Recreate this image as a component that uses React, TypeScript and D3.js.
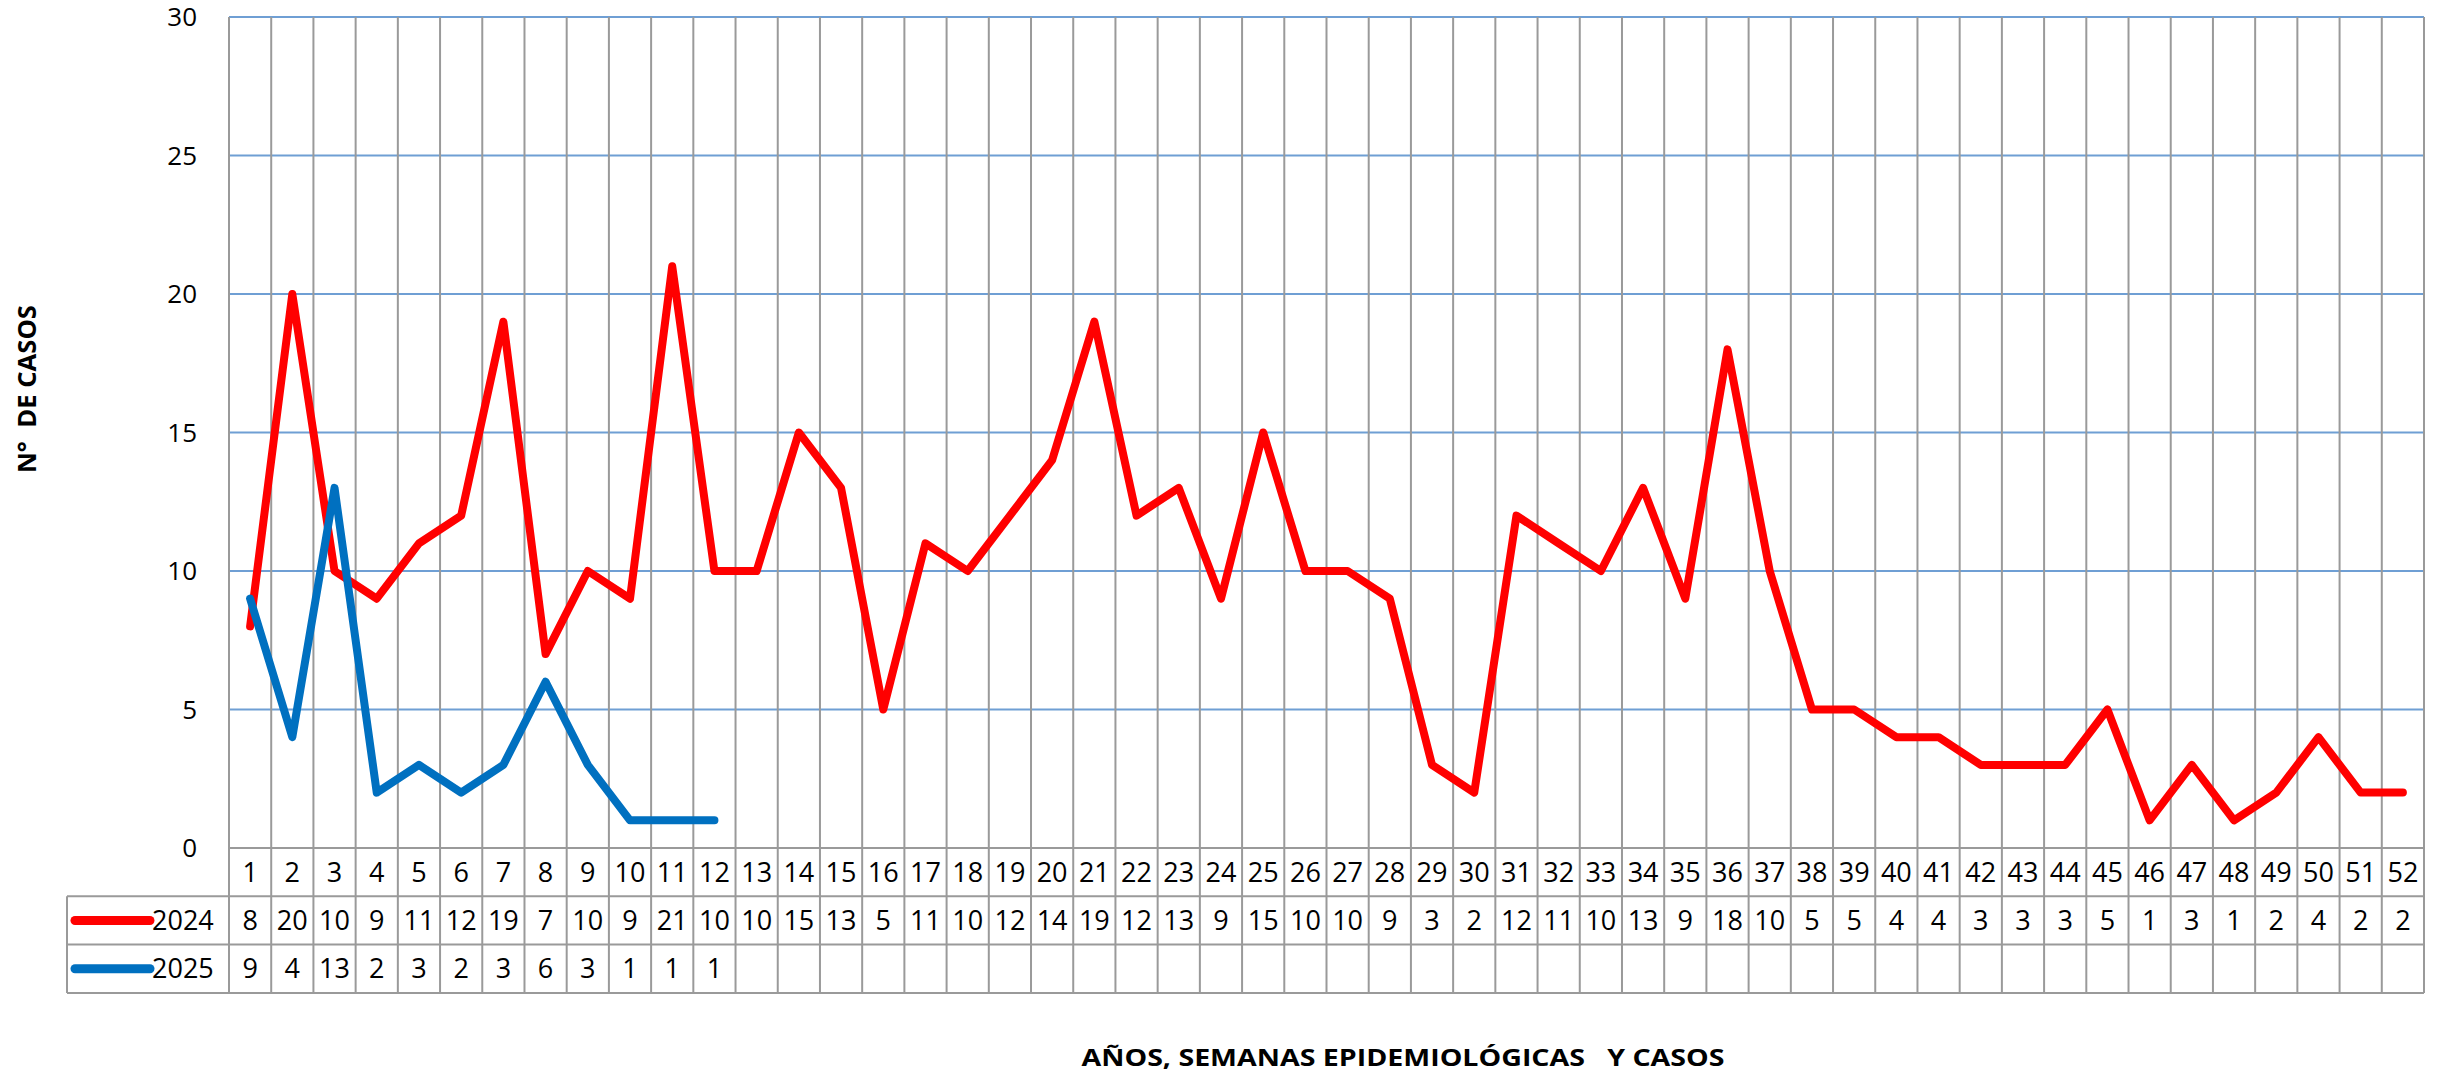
import React from 'react';
import * as d3 from 'd3';

const width = 2438;
const height = 1072;
const margin = { top: 17, right: 14, left: 229 };
const plotBottom = 848;
const rowH = 48.3;
const legendLeft = 67;

const weeks = d3.range(1, 53).map(String);
const cases2024 = [8, 20, 10, 9, 11, 12, 19, 7, 10, 9, 21, 10, 10, 15, 13, 5, 11, 10, 12, 14, 19, 12, 13, 9, 15, 10, 10, 9, 3, 2, 12, 11, 10, 13, 9, 18, 10, 5, 5, 4, 4, 3, 3, 3, 5, 1, 3, 1, 2, 4, 2, 2];
const cases2025 = [9, 4, 13, 2, 3, 2, 3, 6, 3, 1, 1, 1];
const yTicks = [0, 5, 10, 15, 20, 25, 30];

const series = [
  { name: '2024', values: cases2024, color: '#ff0000' },
  { name: '2025', values: cases2025, color: '#0070c0' },
];

const font = '"Open Sans", sans-serif';
const gridGray = '#9a9a9a';
const gridBlue = '#6f9fd4';

export default function App() {
  const x = d3.scaleBand<string>()
    .domain(weeks)
    .range([margin.left, width - margin.right]);

  const y = d3.scaleLinear()
    .domain([0, 30])
    .range([plotBottom, margin.top]);

  const line = d3.line<number>()
    .x((d, i) => (x(weeks[i]) as number) + x.bandwidth() / 2)
    .y(d => y(d));

  const tableBottom = plotBottom + rowH * 3;
  const rowCenter = (r: number) => plotBottom + rowH * r + rowH / 2;
  const fs = 27;

  return (
    <svg width={width} height={height} style={{ position: 'absolute', left: 0, top: 0, background: '#fff' }}
      fontFamily={font}>
      {/* horizontal gridlines */}
      {yTicks.filter(t => t > 0).map(t => (
        <line key={t} x1={margin.left} x2={width - margin.right} y1={y(t)} y2={y(t)}
          stroke={gridBlue} strokeWidth={2} />
      ))}
      {/* vertical gridlines through table */}
      {weeks.map(w => (
        <line key={w} x1={x(w)} x2={x(w)} y1={margin.top} y2={tableBottom}
          stroke={gridGray} strokeWidth={2} />
      ))}
      <line x1={width - margin.right} x2={width - margin.right} y1={margin.top} y2={tableBottom}
        stroke={gridGray} strokeWidth={2} />
      {/* table horizontal lines */}
      <line x1={margin.left} x2={width - margin.right} y1={plotBottom} y2={plotBottom} stroke={gridGray} strokeWidth={2} />
      {[1, 2, 3].map(r => (
        <line key={r} x1={legendLeft} x2={width - margin.right} y1={plotBottom + rowH * r} y2={plotBottom + rowH * r}
          stroke={gridGray} strokeWidth={2} />
      ))}
      <line x1={legendLeft} x2={legendLeft} y1={plotBottom + rowH} y2={tableBottom} stroke={gridGray} strokeWidth={2} />

      {/* y ticks */}
      {yTicks.map(t => (
        <text key={t} x={197} y={y(t) + 9} textAnchor="end" fontSize={26} fill="#000">{t}</text>
      ))}

      {/* week labels */}
      {weeks.map(w => (
        <text key={w} x={(x(w) as number) + x.bandwidth() / 2} y={rowCenter(0) + 9.5}
          textAnchor="middle" fontSize={fs} fill="#000">{w}</text>
      ))}

      {/* data rows */}
      {series.map((s, si) => (
        <g key={s.name}>
          <line x1={75} x2={150} y1={rowCenter(si + 1)} y2={rowCenter(si + 1)}
            stroke={s.color} strokeWidth={9} strokeLinecap="round" />
          <text x={152} y={rowCenter(si + 1) + 9.5} fontSize={fs} fill="#000">{s.name}</text>
          {s.values.map((v, i) => (
            <text key={i} x={(x(weeks[i]) as number) + x.bandwidth() / 2} y={rowCenter(si + 1) + 9.5}
              textAnchor="middle" fontSize={fs} fill="#000">{v}</text>
          ))}
        </g>
      ))}

      {/* lines */}
      {series.map(s => (
        <path key={s.name} d={line(s.values) || ''} fill="none" stroke={s.color}
          strokeWidth={8} strokeLinejoin="round" strokeLinecap="round" />
      ))}

      {/* axis titles */}
      <text x={1403} y={1066} textAnchor="middle" fontSize={24} fontWeight={700}
        textLength={643} lengthAdjust="spacingAndGlyphs" fill="#000" style={{ whiteSpace: 'pre' }}>
        {'AÑOS, SEMANAS EPIDEMIOLÓGICAS   Y CASOS'}
      </text>
      <text transform="translate(36,389) rotate(-90)" textAnchor="middle" fontSize={25} fontWeight={700}
        textLength={168} lengthAdjust="spacingAndGlyphs" fill="#000" style={{ whiteSpace: 'pre' }}>
        {'N°  DE CASOS'}
      </text>
    </svg>
  );
}
